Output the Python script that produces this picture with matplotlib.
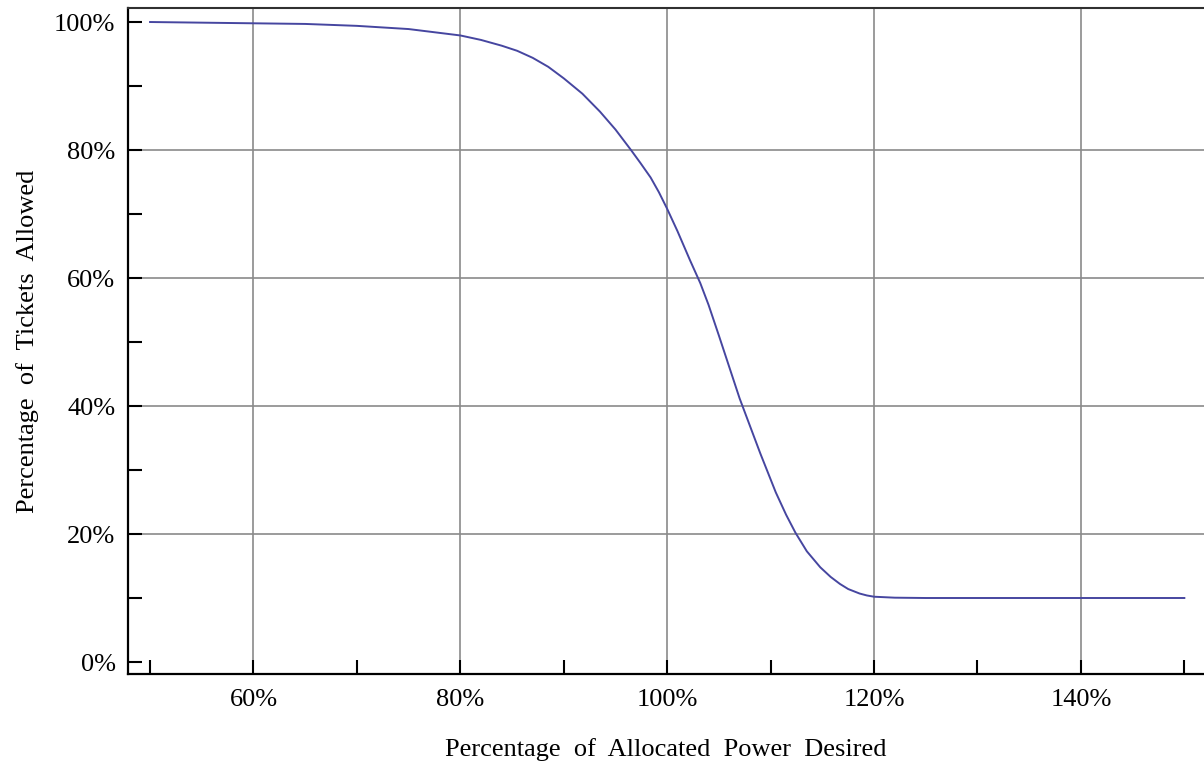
import numpy as np
import matplotlib
matplotlib.use("Agg")
import matplotlib.pyplot as plt
from matplotlib.ticker import FuncFormatter, MultipleLocator, FixedLocator

# values (percent)
power_desired = [50, 55, 60, 65, 70, 75, 80, 82, 84, 85.5, 87, 88.5, 90, 91.8, 93.5,
                 95, 96.5, 97.4, 98.4, 99.2, 100, 101, 102.2, 103.2, 104, 105, 106,
                 107, 108, 109, 110.5, 111.5, 112.4, 113.5, 114.8, 115.8, 116.7,
                 117.5, 118.6, 119.3, 120, 122, 125, 150]
tickets_allowed = [100, 99.9, 99.8, 99.7, 99.4, 98.9, 97.9, 97.2, 96.3, 95.5, 94.4,
                   93.0, 91.2, 88.8, 86.0, 83.2, 80.0, 78.0, 75.7, 73.4, 70.8, 67.3,
                   62.8, 59.2, 55.8, 51.0, 46.1, 41.2, 36.9, 32.6, 26.5, 23.0, 20.2,
                   17.3, 14.8, 13.3, 12.2, 11.4, 10.7, 10.4, 10.2, 10.05, 10, 10]

x_grid = [60, 80, 100, 120, 140]
y_grid = [20, 40, 60, 80]

plt.rcParams['font.family'] = ['Liberation Serif', 'DejaVu Serif']

fig = plt.figure(figsize=(12.04, 7.65), dpi=100)
ax = fig.add_axes([128 / 1204, 1 - 674 / 765, 1 - 128 / 1204, (674 - 8) / 765])

ax.plot(power_desired, tickets_allowed, color='#4646a0', lw=1.4, zorder=3)

ax.set_xlim(47.87, 151.9)
ax.set_ylim(-1.875, 102.19)

for gx in x_grid:
    ax.axvline(gx, color='#8a8a8a', lw=1.2, zorder=1)
for gy in y_grid:
    ax.axhline(gy, color='#8a8a8a', lw=1.2, zorder=1)

pct = FuncFormatter(lambda v, p: '%d%%' % round(v))
ax.xaxis.set_major_locator(FixedLocator(x_grid))
ax.xaxis.set_minor_locator(FixedLocator([50, 70, 90, 110, 130, 150]))
ax.yaxis.set_major_locator(MultipleLocator(20))
ax.yaxis.set_minor_locator(FixedLocator([10, 30, 50, 70, 90]))
ax.xaxis.set_major_formatter(pct)
ax.yaxis.set_major_formatter(pct)

ax.tick_params(which='both', direction='in', length=10, width=1.5, color='black',
               labelsize=19, top=False, right=False)
ax.tick_params(axis='x', pad=11)
ax.tick_params(axis='y', pad=9)

for s in ['left', 'bottom']:
    ax.spines[s].set_linewidth(1.6)
    ax.spines[s].set_color('black')
ax.spines['top'].set_linewidth(1.5)
ax.spines['top'].set_color('#303030')
ax.spines['right'].set_visible(False)

ax.set_xlabel('Percentage  of  Allocated  Power  Desired', fontsize=19, labelpad=19)
ax.set_ylabel('Percentage  of  Tickets  Allowed', fontsize=19, labelpad=11)

fig.savefig('out.png', dpi=100)
